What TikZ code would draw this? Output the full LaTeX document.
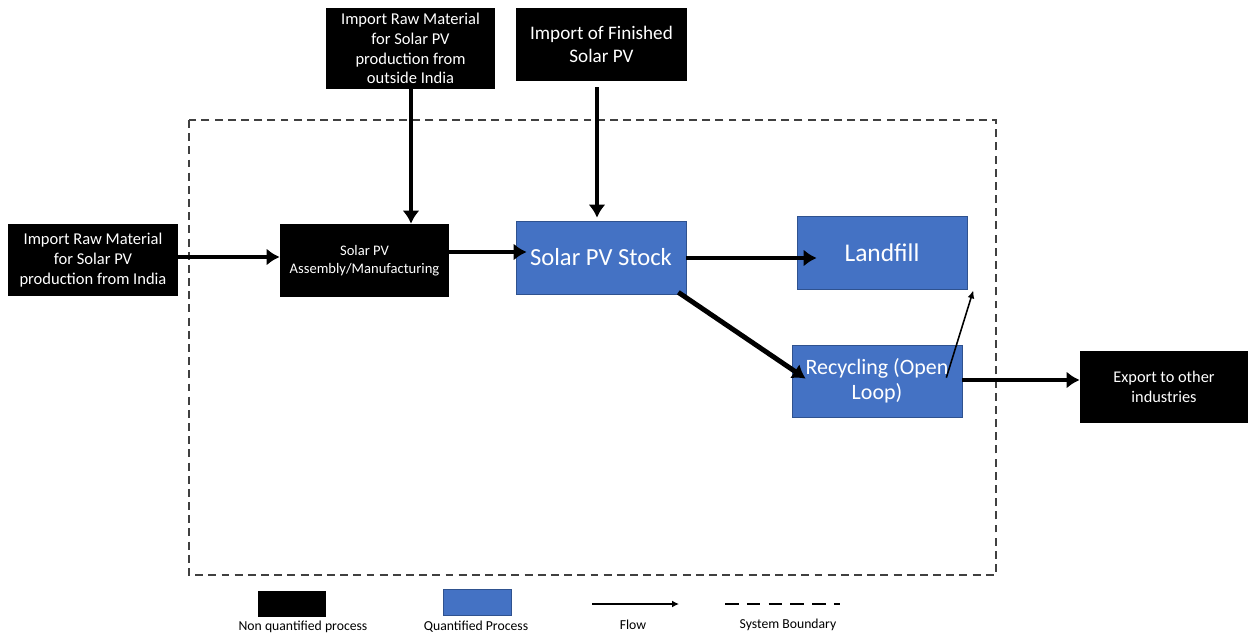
\documentclass[tikz,border=0pt]{standalone}
\usepackage{fontspec}
\setmainfont{Carlito}
\usetikzlibrary{arrows.meta,calc,positioning}
\definecolor{pvblue}{RGB}{68,114,196}
\definecolor{pvedge}{RGB}{47,82,143}
\definecolor{bndgray}{RGB}{64,64,64}

\begin{document}
\begin{tikzpicture}[x=0.02cm,y=-0.02cm,
  nqbox/.style={fill=black,text=white,align=center,inner sep=1pt},
  qbox/.style={fill=pvblue,draw=pvedge,line width=0.4pt,text=white,align=center,inner sep=1pt},
  flow/.style={black,line width=2.8pt,-{Latex[length=0.26cm,width=0.34cm]}},
  thinflow/.style={black,line width=0.9pt,-{Latex[length=0.16cm,width=0.14cm]}},
  boundary/.style={bndgray,line width=0.7pt,dash pattern=on 4.5pt off 3pt},
  leglabel/.style={font=\fontsize{7.8}{9}\selectfont,inner sep=0pt}]
\useasboundingbox (0,0) rectangle (1248,635);
% ==========================================
\draw[boundary] (189,120) rectangle (996,575);
%
\node[nqbox,minimum width=3.38cm,minimum height=1.62cm,font=\fontsize{9.4}{11.3}\selectfont] (outside) at (410.5,48.5)
  {Import Raw Material\\for Solar PV\\production from\\outside India};
\node[nqbox,minimum width=3.42cm,minimum height=1.46cm,font=\fontsize{10.9}{13}\selectfont] (finished) at (601.5,44.5)
  {Import of Finished\\Solar PV};
\node[nqbox,minimum width=3.4cm,minimum height=1.44cm,font=\fontsize{9.4}{11.3}\selectfont] (india) at (93,260)
  {Import Raw Material\\for Solar PV\\production from India};
\node[nqbox,minimum width=3.38cm,minimum height=1.46cm,font=\fontsize{8.3}{10.5}\selectfont] (assembly) at (364.5,260.5)
  {Solar PV\\Assembly/Manufacturing};
\node[qbox,minimum width=3.4cm,minimum height=1.46cm,font=\fontsize{14}{16}\selectfont] (stock) at (601,257.5)
  {Solar PV Stock};
\node[qbox,minimum width=3.4cm,minimum height=1.46cm,font=\fontsize{14.5}{16}\selectfont] (landfill) at (882,252.5)
  {Landfill};
\node[qbox,minimum width=3.4cm,minimum height=1.44cm,font=\fontsize{12.5}{14.2}\selectfont] (recycling) at (877,381)
  {Recycling (Open\\Loop)};
\node[nqbox,minimum width=3.36cm,minimum height=1.44cm,font=\fontsize{9.3}{11.2}\selectfont] (export) at (1164,387)
  {Export to other\\industries};
%
\draw[flow] (india.east |- 0,257) -- (assembly.west |- 0,257);
\draw[flow] (outside.south -| 411,0) -- (assembly.north -| 411,0);
\draw[flow] ($(finished.south -| 597,0)+(0,6)$) -- ($(stock.north -| 597,0)+(0,-3)$);
\draw[flow] (assembly.east |- 0,252) -- ($(stock.west |- 0,252)+(11,0)$);
\draw[flow] (stock.east |- 0,258) -- ($(landfill.west |- 0,258)+(20,0)$);
\draw[flow] ($(stock.south east)+(-8,-2)$) -- ($(recycling.north west)+(14,34)$);
\draw[flow] (recycling.east |- 0,380) -- (export.west |- 0,380);
\draw[thinflow] ($(recycling.north east)+(-16,33)$) -- ($(landfill.south east)+(6,1)$);
% =============================================
% legend
\node[fill=black,minimum width=1.36cm,minimum height=0.52cm,inner sep=0pt] (legnq) at (292,604) {};
\node[fill=pvblue,draw=pvedge,line width=0.4pt,minimum width=1.36cm,minimum height=0.52cm,inner sep=0pt] (legq) at (477,602) {};
\coordinate (lf1) at (592,604);
\coordinate (lf2) at (679,604);
\draw[black,line width=1.1pt,-{Latex[length=0.14cm,width=0.14cm]}] (lf1) -- (lf2);
\coordinate (ld1) at (725,604);
\coordinate (ld2) at (840,604);
\draw[black,line width=1.6pt,dash pattern=on 7.8pt off 4.6pt] (ld1) -- (ld2);
\node[leglabel] (lbnq) at (303,627) {Non quantified process};
\node[leglabel] (lbq) at (476,627) {Quantified Process};
\node[leglabel] (lbf) at (633,625) {Flow};
\node[leglabel] (lbd) at (788,625) {System Boundary};
\end{tikzpicture}
\end{document}
